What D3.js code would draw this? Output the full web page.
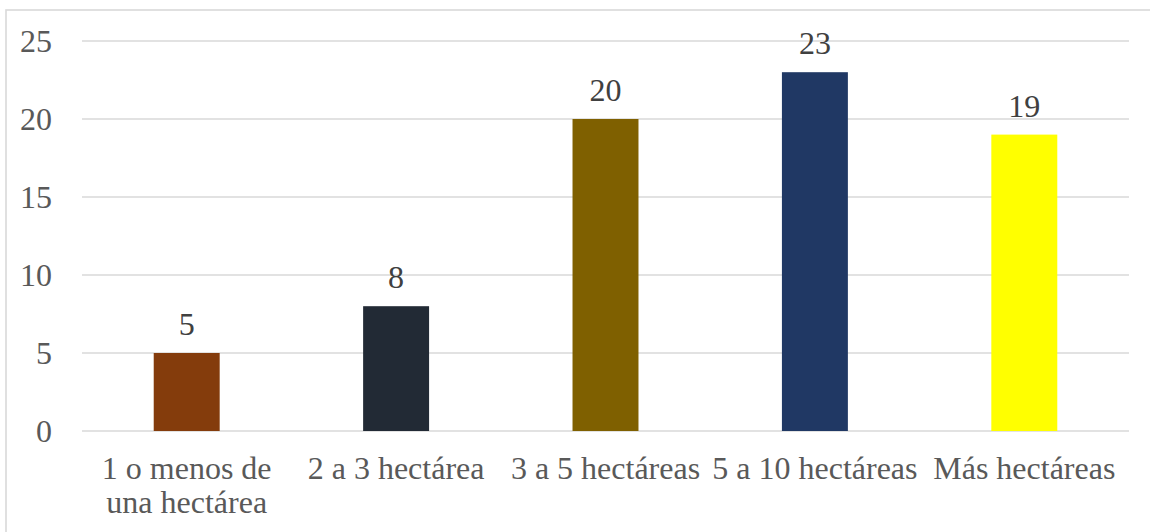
<!DOCTYPE html>
<html>
<head>
<meta charset="utf-8">
<script src="https://cdn.jsdelivr.net/npm/d3@7"></script>
<style>
  html, body { margin: 0; padding: 0; background: #fff; }
  svg { display: block; }
</style>
</head>
<body>
<svg id="chart" width="1150" height="532"></svg>
<script>
// Farm size categories and number of producers in each
const categories = [["1 o menos de", "una hectárea"], ["2 a 3 hectárea"], ["3 a 5 hectáreas"], ["5 a 10 hectáreas"], ["Más hectáreas"]];
const values = [5, 8, 20, 23, 19];
const barColors = ["#843C0C", "#222A35", "#7F6000", "#203864", "#FFFF00"];
const yTicks = [0, 5, 10, 15, 20, 25];

const fontFamily = "'Liberation Serif', 'Times New Roman', Tinos, 'DejaVu Serif', serif";

const svg = d3.select("#chart").attr("font-family", fontFamily);
const plotLeft = 82, plotRight = 1129, plotTop = 41, plotBottom = 431;

// Outer chart frame
svg.append("rect")
  .attr("x", 6).attr("y", 10)
  .attr("width", 1160).attr("height", 540)
  .attr("fill", "none").attr("stroke", "#d9d9d9").attr("stroke-width", 1.6);

const x = d3.scaleBand()
  .domain(d3.range(values.length))
  .range([plotLeft, plotRight])
  .paddingInner(0.685).paddingOuter(0.3425);

const y = d3.scaleLinear().domain([0, 25]).range([plotBottom, plotTop]);

// Horizontal gridlines
svg.append("g").selectAll("line").data(yTicks).join("line")
  .attr("x1", plotLeft).attr("x2", plotRight)
  .attr("y1", d => y(d)).attr("y2", d => y(d))
  .attr("stroke", "#d9d9d9").attr("stroke-width", 1.3);

// Y tick labels
svg.append("g").selectAll("text").data(yTicks).join("text")
  .attr("x", 52).attr("y", d => y(d) + 11)
  .attr("text-anchor", "end")
  .attr("font-family", fontFamily)
  .attr("font-size", 32).attr("fill", "#595959")
  .text(d => d);

// Bars
svg.append("g").selectAll("rect").data(values).join("rect")
  .attr("x", (d, i) => x(i))
  .attr("y", d => y(d))
  .attr("width", x.bandwidth())
  .attr("height", d => y(0) - y(d))
  .attr("fill", (d, i) => barColors[i]);

// Value labels above bars
svg.append("g").selectAll("text").data(values).join("text")
  .attr("x", (d, i) => x(i) + x.bandwidth() / 2)
  .attr("y", d => y(d) - 18)
  .attr("text-anchor", "middle")
  .attr("font-family", fontFamily)
  .attr("font-size", 32).attr("fill", "#404040")
  .text(d => d);

// Category labels
const cat = svg.append("g").selectAll("text").data(categories).join("text")
  .attr("text-anchor", "middle")
  .attr("font-family", fontFamily)
  .attr("font-size", 32).attr("fill", "#595959")
  .attr("x", (d, i) => x(i) + x.bandwidth() / 2)
  .attr("y", 479);
cat.selectAll("tspan").data(d => d).join("tspan")
  .attr("x", function () { return d3.select(this.parentNode).attr("x"); })
  .attr("dy", (d, j) => j === 0 ? 0 : 34)
  .text(d => d);
</script>
</body>
</html>
